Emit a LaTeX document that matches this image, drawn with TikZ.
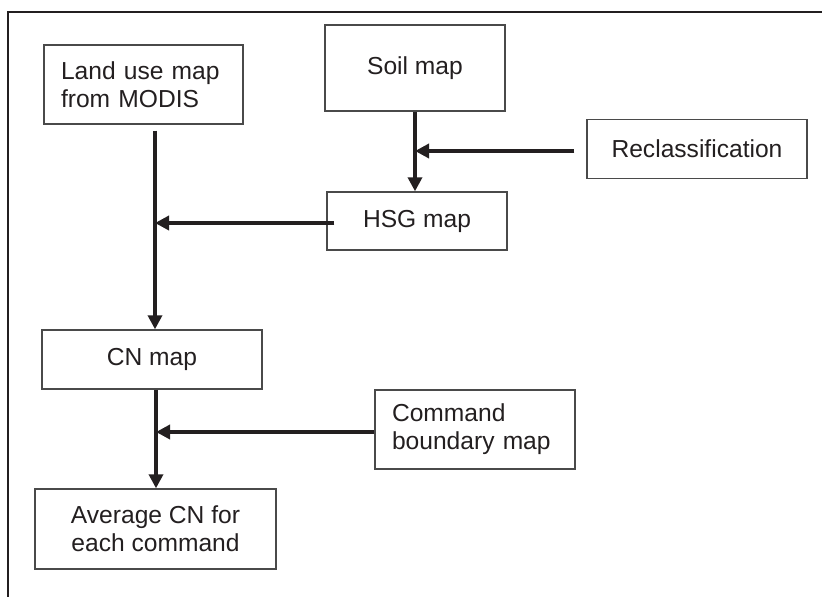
\documentclass[tikz,border=0pt]{standalone}
\usepackage{fontspec}
\setmainfont{Liberation Sans}
\usetikzlibrary{arrows.meta}
\definecolor{ink}{HTML}{231F20}
\definecolor{boxline}{HTML}{4A4A4A}
\begin{document}
\begin{tikzpicture}[x=1pt,y=-1pt,
  box/.style={draw=boxline,line width=1.4pt,text=ink,inner sep=0pt,
    font=\fontsize{24.6}{28}\selectfont,align=center},
  lbox/.style={box,align=left,inner xsep=17pt},
  arr/.style={draw=ink,line width=3.4pt,-{Triangle[length=14pt,width=14pt]}}]
\useasboundingbox (0,0) rectangle (822,597);
\draw[ink,line width=1.6pt] (8,597) -- (8,12) -- (822,12);
% boxes
\node[lbox,text width=165pt,minimum height=79pt] (land) at (143.5,84.5) {Land use map\\from MODIS};
\node[box,minimum width=180pt,minimum height=86pt] (soil) at (415,68) {Soil map};
\node[box,minimum width=220pt,minimum height=59pt] (reclass) at (697,149) {Reclassification};
\node[box,minimum width=180pt,minimum height=58pt] (hsg) at (417,221) {HSG map};
\node[box,minimum width=220pt,minimum height=59pt] (cn) at (152,359.5) {CN map};
\node[lbox,text width=166pt,minimum height=79pt] (cmd) at (475,429.5) {Command\\boundary map};
\node[box,minimum width=241pt,minimum height=80pt] (avg) at (155.5,529) {Average CN for\\each command};
% junctions
\coordinate (j1) at (155,223);
\coordinate (j2) at (415,151);
\coordinate (j3) at (156,432);
% connectors
\draw[arr] ([yshift=-6pt]land.south -| j1) -- (j1 |- cn.north);
\draw[arr] ([xshift=8pt]hsg.west |- j1) -- (j1);
\draw[arr] (soil.south -| j2) -- (hsg.north -| j2);
\draw[arr] ([xshift=-12pt]reclass.west |- j2) -- (j2);
\draw[arr] (cn.south -| j3) -- (avg.north -| j3);
\draw[arr] (cmd.west |- j3) -- (j3);
\end{tikzpicture}
\end{document}
